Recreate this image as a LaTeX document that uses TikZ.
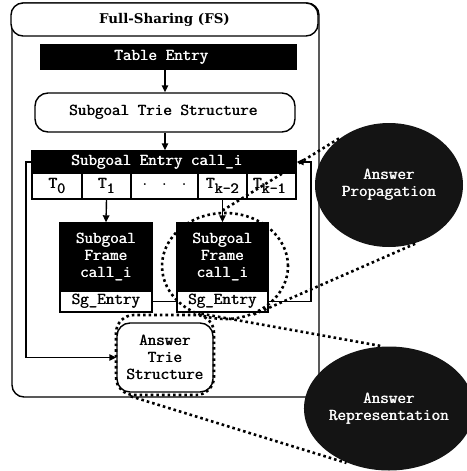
\documentclass[tikz,border=0pt]{standalone}
\usepackage{fontspec}
\newfontfamily\titlefont{DejaVu Serif}
\usetikzlibrary{arrows.meta,shapes.geometric}

% heavier typewriter text: the same line set twice, half a point apart
\newcommand\hv[1]{\rlap{#1}\hspace{0.55pt}#1}
% T with a lowered index, as printed in the cell row
\newcommand\tidx[1]{\hv{T\raisebox{-4.5pt}{\fontsize{15.5}{15.5}\selectfont#1}}}

\begin{document}
\begin{tikzpicture}[x=1pt,y=-1pt, line width=1.4pt,
  every node/.style={font=\fontsize{16.6}{17}\selectfont\ttfamily, inner sep=0pt},
  blackbox/.style={draw, fill=black, text=white, rectangle},
  whitebox/.style={draw, fill=white, rectangle},
  roundbox/.style={draw, rounded corners=13pt, align=center},
  arr/.style={-{Triangle[length=7pt,width=6.5pt]}},
  dots/.style={line width=2.6pt, dash pattern=on 2.6pt off 3pt},
  callout/.style={ellipse, fill=black!92, text=white, align=center,
                  minimum width=148pt, minimum height=124pt}
]
\useasboundingbox (0,0) rectangle (466,471);

% container and its title band
\node[draw, rounded corners=12pt, minimum width=307pt, minimum height=394pt] (fs) at (165.5,200) {};
\node[draw, fill=white, rounded corners=12pt, minimum width=307pt, minimum height=33pt,
      font=\fontsize{13.4}{15}\selectfont\titlefont\bfseries] (fstitle) at (164.5,19.5) {Full-Sharing (FS)};

% table entry and subgoal trie
\node[blackbox, minimum width=255pt, minimum height=24pt] (te) at (168.5,57) {\hv{Table Entry}\hspace*{14pt}};
\node[roundbox, minimum width=260pt, minimum height=39pt] (trie) at (165,112.5) {\hv{Subgoal Trie Structure}\hspace*{3pt}};

% subgoal entry with its row of cells
\node[blackbox, minimum width=264pt, minimum height=22pt] (entry) at (164,162) {\hv{Subgoal Entry call\_i}\hspace*{14pt}};
\node[whitebox, minimum width=50pt, minimum height=26pt] (c0) at (57,186) {\tidx{0}};
\node[whitebox, minimum width=49pt, minimum height=26pt] (c1) at (106.5,186) {\tidx{1}};
\node[whitebox, minimum width=67pt, minimum height=26pt] (c2) at (164.5,186) {\raisebox{3pt}{.\hspace{11pt}.\hspace{11pt}.}};
\node[whitebox, minimum width=49pt, minimum height=26pt] (c3) at (222.5,186) {\tidx{k-2}};
\node[whitebox, minimum width=49pt, minimum height=26pt] (c4) at (271.5,186) {\hspace*{-4pt}\tidx{k-1}};

% subgoal frames
\node[blackbox, minimum width=92pt, minimum height=68pt, align=center] (f1) at (106,257) {\hv{Subgoal}\\\hv{Frame}\\\hv{call\_i}};
\node[whitebox, minimum width=92pt, minimum height=21pt] (s1) at (106,301.5) {\hv{Sg\_Entry}};
\node[blackbox, minimum width=91pt, minimum height=68pt, align=center] (f2) at (222.5,257) {\hv{Subgoal}\\\hv{Frame}\\\hv{call\_i}};
\node[whitebox, minimum width=91pt, minimum height=21pt] (s2) at (222.5,301.5) {\hv{Sg\_Entry}};

% answer trie
\node[roundbox, minimum width=96pt, minimum height=69pt] (ans) at (165,357.5) {\hv{Answer}\\\hv{Trie}\\\hv{Structure}};

% connectors
\draw[arr] (trie.north |- te.south) -- (trie.north);
\draw[arr] (trie.south) -- (trie.south |- entry.north);
\draw[arr] (c1.south) -- (f1.north);
\draw[arr] (c3.south) -- (f2.north);
\draw (s1.east) -- (s2.west);
\coordinate (loopR) at (311,162);
\draw[arr] (s2.east) -| (loopR) -- (entry.east);
\coordinate (loopL) at (26,162);
\draw[arr] (entry.west) -- (loopL) |- (ans.west);

% highlighted regions
\node[ellipse, draw, dots, minimum width=126pt, minimum height=106pt] (zoomA) at (225,266) {};
\node[draw, dots, rounded corners=18pt, minimum width=98pt, minimum height=80pt] (zoomB) at (165,355) {};

% callouts
\node[callout] (prop) at (389,185) {\hv{Answer}\\\hv{Propagation}};
\node[callout] (rep) at (389,408.5) {\hv{Answer}\\\hv{Representation}};

\draw[dots] (prop.137) -- (zoomA.95);
\draw[dots] (prop.-66) -- (zoomA.-62);
\draw[dots] ([xshift=-14pt]zoomB.north east) -- (rep.97);
\draw[dots] ([xshift=16pt]zoomB.south west) -- (rep.-128);
\end{tikzpicture}
\end{document}
